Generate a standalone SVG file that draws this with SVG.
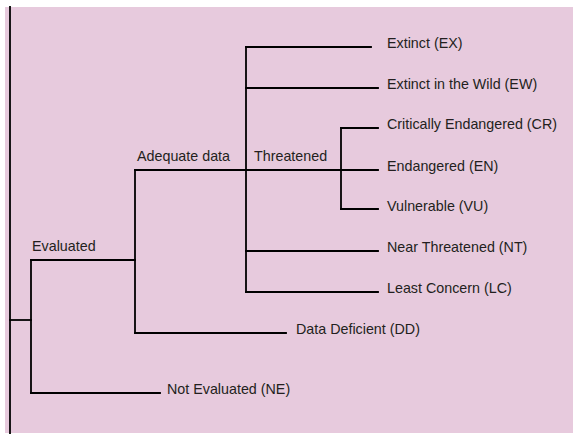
<svg xmlns="http://www.w3.org/2000/svg" width="573" height="434" viewBox="0 0 573 434">
<style>
.bg{fill:#E7CADD}
.ln{fill:none;stroke:#000;stroke-width:1.8;stroke-linecap:square}
text{font-family:"Liberation Sans",Arial,sans-serif;font-size:14.3px;fill:#231F20}
</style>
<rect width="573" height="434" fill="#ffffff"/>
<rect class="bg" x="5" y="7" width="568" height="426"/>
<g id="connectors">
<path class="ln" d="M10,7 V434"/>
<path class="ln" d="M10,320 H31"/>
<path class="ln" d="M31,260 V393"/>
<path class="ln" d="M31,260 H135"/>
<path class="ln" d="M31,393 H160"/>
<path class="ln" d="M135,170 V333"/>
<path class="ln" d="M135,333 H286"/>
<path class="ln" d="M135,170 H378"/>
<path class="ln" d="M246,47 V292"/>
<path class="ln" d="M246,47 H371"/>
<path class="ln" d="M246,88 H378"/>
<path class="ln" d="M246,251 H378"/>
<path class="ln" d="M246,292 H378"/>
<path class="ln" d="M341,128 V209"/>
<path class="ln" d="M341,128 H378"/>
<path class="ln" d="M341,209 H378"/>
</g>
<g id="evaluated"><text x="32" y="251">Evaluated</text></g>
<g id="adequate-data"><text x="137" y="161">Adequate data</text></g>
<g id="threatened"><text x="254" y="161">Threatened</text></g>
<g id="ex"><text x="387" y="48">Extinct (EX)</text></g>
<g id="ew"><text x="387" y="89">Extinct in the Wild (EW)</text></g>
<g id="cr"><text x="387" y="129">Critically Endangered (CR)</text></g>
<g id="en"><text x="387" y="170.5">Endangered (EN)</text></g>
<g id="vu"><text x="387" y="210.5">Vulnerable (VU)</text></g>
<g id="nt"><text x="387" y="252">Near Threatened (NT)</text></g>
<g id="lc"><text x="387" y="293">Least Concern (LC)</text></g>
<g id="dd"><text x="296" y="333.5">Data Deficient (DD)</text></g>
<g id="ne"><text x="167" y="394">Not Evaluated (NE)</text></g>
</svg>
